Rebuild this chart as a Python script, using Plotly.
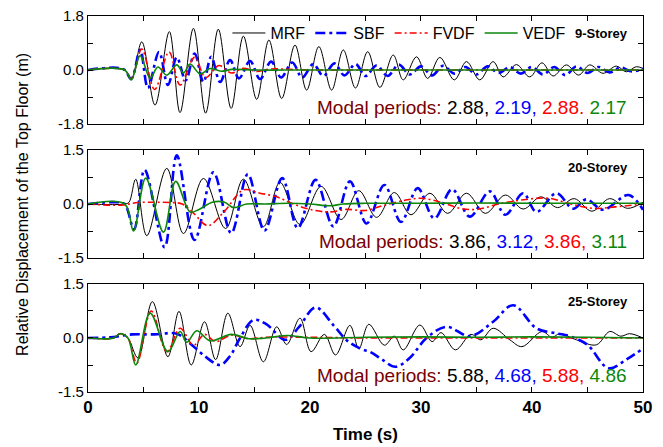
import plotly.graph_objects as go
from plotly.subplots import make_subplots

# ---------------- 9-Storey: roof displacement time histories (s, m) ----------------
t9_mrf = [0, 3.3, 3.9, 4.85, 6.04, 7.33, 8.29, 9.5, 10.6, 11.74, 12.9, 14.0, 15.2, 16.3,
          17.45, 18.65, 19.7, 20.8, 21.95, 23.0, 24.1, 25.2, 26.3, 27.5, 28.4, 29.6, 30.6,
          31.7, 33.0, 34.1, 35.3, 36.5, 37.4, 38.6, 39.8, 40.9, 41.9, 43.1, 44.2, 45.2,
          46.4, 47.6, 48.5, 49.4, 50]
y9_mrf = [0, 0, -0.3, 0.94, -1.17, 1.28, -1.42, 1.39, -1.44, 1.36, -1.28, 1.13, -0.98, 1.0,
          -0.95, 0.83, -0.67, 0.78, -0.67, 0.67, -0.6, 0.61, -0.58, 0.5, -0.33, 0.44, -0.28,
          0.42, -0.33, 0.28, -0.33, 0.28, -0.23, 0.18, -0.23, 0.24, -0.2, 0.17, -0.17, 0.17,
          -0.11, 0.13, -0.06, 0.11, 0.05]

t9_sbf = [0, 3.2, 3.9, 4.7, 5.4, 6.4, 7.2, 8.0, 8.8, 9.6, 10.4, 11.1, 11.9, 12.8, 13.6, 14.6,
          15.5, 16.5, 17.4, 18.4, 19.3, 20.3, 21.2, 22.2, 23.1, 24.1, 25.0, 26.0, 27.0, 28.0,
          29.0, 30.0, 31.0, 32.0, 33.0, 34.0, 35.0, 36.0, 37.0, 38.0, 39.0, 40.0, 41.0, 42.0,
          43.0, 44.0, 45.0, 46.0, 47.0, 48.0, 49.0, 50]
y9_sbf = [0, 0.03, -0.3, 0.67, -0.6, 0.6, -0.5, 0.42, -0.35, 0.55, -0.4, 0.44, -0.4, 0.33,
          -0.28, 0.3, -0.3, 0.28, -0.25, 0.25, -0.25, 0.2, -0.2, 0.22, -0.18, 0.2, -0.2, 0.15,
          -0.2, 0.18, -0.15, 0.12, -0.18, 0.14, -0.12, 0.1, -0.15, 0.12, -0.1, 0.1, -0.12, 0.1,
          -0.15, 0.1, -0.17, 0.12, -0.1, 0.1, -0.08, 0.08, -0.05, 0.05]

t9_fvdf = [0, 3.3, 3.9, 4.85, 6.0, 7.3, 8.3, 9.6, 10.6, 11.8, 12.9, 14.0, 15.2, 16.3, 20, 25,
           30, 35, 40, 45, 50]
y9_fvdf = [0, 0, -0.3, 0.7, -0.65, 0.6, -0.5, 0.42, -0.25, 0.15, -0.1, 0.06, -0.05, 0.03, 0,
           0, 0, 0, 0, 0, 0]

t9_vedf = [0, 3.3, 3.9, 4.7, 5.6, 6.3, 7.1, 8.0, 8.6, 9.2, 10.1, 11.0, 12.0, 13.0, 15, 20, 30,
           40, 50]
y9_vedf = [0, 0, -0.33, 0.48, -0.27, 0.1, -0.17, 0.17, -0.1, 0.2, -0.13, 0.05, -0.04, 0.02, 0,
           0, 0, 0, 0]

# ---------------- 20-Storey ----------------
t20_mrf = [0, 3.3, 3.7, 4.3, 5.3, 7.1, 8.6, 10.4, 12.4, 14.0, 15.8, 17.3, 19.1, 21.0, 22.8,
           24.4, 26.0, 27.6, 29.1, 30.8, 32.4, 34.1, 35.8, 37.6, 39.2, 40.8, 42.3, 43.8, 45.4,
           47.0, 48.6, 50]
y20_mrf = [0, 0, 0.05, 0.69, -0.88, 0.99, -0.82, 0.71, -0.68, 0.69, -0.63, 0.6, -0.57, 0.49,
           -0.43, 0.37, -0.37, 0.32, -0.3, 0.3, -0.26, 0.3, -0.26, 0.25, -0.14, 0.2, -0.1, 0.15,
           -0.2, 0.15, -0.12, 0.05]

t20_sbf = [0, 2.5, 3.3, 4.15, 5.1, 6.9, 8.0, 9.6, 11.3, 12.9, 14.4, 15.9, 17.5, 18.9, 20.5,
           22.1, 23.6, 25.1, 26.7, 28.2, 29.7, 31.2, 32.8, 34.4, 36.2, 37.6, 39.2, 40.4, 42.2,
           43.7, 44.9, 46.4, 48.7, 50]
y20_sbf = [0, 0.05, 0, -0.7, 0.95, -1.2, 1.35, -1.0, 0.88, -0.81, 0.83, -0.74, 0.72, -0.67,
           0.67, -0.62, 0.63, -0.54, 0.53, -0.5, 0.44, -0.4, 0.41, -0.35, 0.35, -0.3, 0.3,
           -0.22, 0.3, -0.13, 0.13, -0.16, 0.25, -0.16]

t20_fvdf = [0, 3.0, 4.5, 6.0, 7.5, 8.5, 9.5, 10.8, 12.3, 14.0, 15.5, 17.0, 18.5, 20.3, 21.8,
            23.3, 25.0, 26.5, 28.5, 30.0, 31.8, 33.5, 35.0, 37.0, 39.0, 41.5, 43.5, 45.5,
            47.5, 50]
y20_fvdf = [0, -0.03, 0.04, 0.05, 0.04, 0, -0.25, -0.6, -0.2, 0.39, 0.3, 0.2, 0.0, -0.17,
            -0.22, -0.15, -0.18, -0.05, 0.1, 0.16, 0.05, -0.12, -0.15, 0.0, 0.11, 0.16, 0.0,
            -0.12, -0.08, 0.0]

t20_vedf = [0, 3.3, 4.1, 5.2, 6.8, 7.9, 9.2, 10.0, 11.2, 12.3, 13.1, 14.3, 16, 18, 20, 21.8,
            23, 25, 30, 35, 40, 45, 50]
y20_vedf = [0, 0, -0.75, 0.72, -0.78, 0.63, -0.22, -0.15, 0.05, 0.05, -0.1, 0.0, 0.0, 0.02,
            0.0, -0.05, 0.0, 0.02, 0.02, 0.03, 0.02, 0.02, 0.02]

# ---------------- 25-Storey ----------------
t25_mrf = [0, 2.3, 2.9, 3.6, 4.5, 5.8, 7.2, 8.2, 9.3, 10.5, 11.5, 12.6, 13.7, 14.6, 15.8,
           17.0, 17.9, 19.1, 20.1, 21.3, 22.3, 23.6, 24.4, 25.3, 26.7, 27.6, 28.4, 29.9,
           31.0, 31.8, 33.1, 34.5, 35.4, 36.5, 38.0, 39.1, 40.9, 41.8, 42.5, 44.0, 45.8,
           47.0, 48.0, 48.8, 50]
y25_mrf = [0, 0, 0.13, 0.0, -0.55, 1.01, -0.52, 0.74, -0.75, 0.45, -0.6, 0.69, -0.24, 0.35,
           -0.66, 0.31, -0.18, 0.55, -0.38, 0.1, -0.47, 0.35, -0.3, 0.38, -0.2, 0.05, -0.33,
           0.36, -0.1, 0.15, -0.33, 0.1, -0.05, 0.27, -0.05, -0.24, 0.18, 0.02, 0.12, -0.05,
           -0.19, 0.18, 0.05, 0.12, 0.0]

t25_sbf = [0, 2, 4, 6, 8, 9.2, 10.5, 11.9, 12.8, 13.7, 14.9, 16.0, 17.8, 19.0, 20.5, 22.1,
           23.3, 24.5, 25.5, 26.5, 27.7, 29.0, 30.5, 32.3, 34.4, 36.5, 38.3, 40.4, 42.2, 43.4,
           45.0, 46.9, 48.5, 50]
y25_sbf = [0, 0.02, 0.1, 0.1, 0.12, -0.15, -0.5, -0.75, -0.5, 0.0, 0.5, 0.4, -0.05, 0.3,
           0.85, 0.36, -0.06, -0.29, -0.4, -0.6, -0.8, -0.55, 0.0, 0.31, 0.05, 0.45, 0.91,
           0.27, 0.13, 0.05, -0.19, -0.84, -0.6, -0.29]

t25_fvdf = [0, 2.3, 2.9, 3.6, 4.4, 5.7, 7.1, 8.3, 9.5, 10.5, 11.5, 12.9, 14.5, 16, 20, 25, 30,
            35, 40, 45, 50]
y25_fvdf = [0, 0, 0.12, 0, -0.7, 0.75, -0.38, 0.27, -0.2, 0.1, -0.1, 0.08, -0.02, 0.02, 0.02,
            0, 0, 0, 0, 0, 0]

t25_vedf = [0, 2.3, 2.9, 3.6, 4.3, 5.6, 7.2, 8.3, 8.9, 9.8, 11.0, 12.9, 14.5, 16, 18, 20, 25,
            30, 35, 40, 45, 50]
y25_vedf = [0, 0, 0.12, 0, -0.75, 0.69, -0.38, 0.18, -0.12, 0.2, -0.08, 0.1, -0.02, 0.0,
            0.07, 0.0, 0.02, 0.03, 0.02, 0.03, 0.02, 0.0]

# ---------------- labels ----------------
systems = ["MRF", "SBF", "FVDF", "VEDF"]
panel_titles = ["9-Storey", "20-Storey", "25-Storey"]
modal_periods = [["2.88,", "2.19,", "2.88.", "2.17"],
                 ["3.86,", "3.12,", "3.86,", "3.11"],
                 ["5.88,", "4.68,", "5.88,", "4.86"]]
y_limits = [1.8, 1.5, 1.5]
x_ticks = [0, 5, 10, 15, 20, 25, 30, 35, 40, 45, 50]
x_ticktext = ["0", "", "10", "", "20", "", "30", "", "40", "", "50"]

panels = [
    [(t9_mrf, y9_mrf), (t9_sbf, y9_sbf), (t9_fvdf, y9_fvdf), (t9_vedf, y9_vedf)],
    [(t20_mrf, y20_mrf), (t20_sbf, y20_sbf), (t20_fvdf, y20_fvdf), (t20_vedf, y20_vedf)],
    [(t25_mrf, y25_mrf), (t25_sbf, y25_sbf), (t25_fvdf, y25_fvdf), (t25_vedf, y25_vedf)],
]

# ---------------- styling ----------------
FONT = "Liberation Sans, Arial, sans-serif"
line_styles = [
    dict(color="#000000", width=1.0, dash="solid"),
    dict(color="#0000ff", width=2.6, dash="10px,4px,3px,4px"),
    dict(color="#ff0000", width=1.6, dash="7px,3px,2px,3px"),
    dict(color="#0c870c", width=1.6, dash="solid"),
]
num_colors = ["#000000", "#0000ff", "#ff0000", "#0c870c"]

x_dom = [0.1327, 0.9698]
y_doms = [[0.7226, 0.9642], [0.4228, 0.6644], [0.1230, 0.3647]]

fig = make_subplots(rows=3, cols=1)

for p, series in enumerate(panels):
    for s, (tt, yy) in enumerate(series):
        fig.add_trace(
            go.Scatter(
                x=tt, y=yy, mode="lines", name=systems[s],
                line=dict(shape="spline", smoothing=1.0, **line_styles[s]),
                showlegend=(p == 0), hoverinfo="skip",
            ),
            row=p + 1, col=1,
        )

for p in range(3):
    lim = y_limits[p]
    xa = "xaxis" if p == 0 else f"xaxis{p + 1}"
    ya = "yaxis" if p == 0 else f"yaxis{p + 1}"
    fig.layout[xa].update(
        domain=x_dom, range=[0, 50], tickvals=x_ticks, ticktext=x_ticktext,
        showticklabels=(p == 2), ticks="inside", ticklen=5, tickwidth=1,
        tickcolor="black", showline=True, linecolor="black", linewidth=1,
        mirror="allticks", showgrid=False, zeroline=False, automargin=False,
        tickfont=dict(family=FONT, size=17, color="black", weight="bold"),
    )
    fig.layout[ya].update(
        domain=y_doms[p], range=[-lim, lim],
        tickvals=[-lim, -lim / 2, 0, lim / 2, lim],
        ticktext=[f"-{lim:.1f}", "", "0.0", "", f"{lim:.1f}"],
        ticks="inside", ticklen=5, tickwidth=1, tickcolor="black",
        showline=True, linecolor="black", linewidth=1, mirror="allticks",
        showgrid=False, zeroline=False, automargin=False,
        tickfont=dict(family=FONT, size=15, color="black"),
    )
    ref = "" if p == 0 else str(p + 1)
    # storey label
    fig.add_annotation(
        xref=f"x{ref} domain", yref=f"y{ref} domain",
        x=0.977, y=0.84, xanchor="right", yanchor="middle",
        text=f"<b>{panel_titles[p]}</b>", showarrow=False,
        font=dict(family=FONT, size=13, color="black"),
    )
    # modal periods line
    parts = ['<span style="color:#7a0000">Modal periods:</span>']
    for s in range(4):
        parts.append(f'<span style="color:{num_colors[s]}">{modal_periods[p][s]}</span>')
    fig.add_annotation(
        xref=f"x{ref} domain", yref=f"y{ref} domain",
        x=0.974, y=0.15, xanchor="right", yanchor="middle",
        text=" ".join(parts), showarrow=False,
        font=dict(family=FONT, size=19, color="black"),
    )

fig.add_annotation(
    xref="paper", yref="paper", x=0.033, y=0.5436, textangle=-90,
    text="Relative Displacement of the Top Floor (m)", showarrow=False,
    xanchor="center", yanchor="middle",
    font=dict(family=FONT, size=16, color="black"),
)
fig.add_annotation(
    xref="paper", yref="paper", x=0.551, y=0.027,
    text="<b>Time (s)</b>", showarrow=False, xanchor="center", yanchor="middle",
    font=dict(family=FONT, size=17, color="black"),
)

fig.update_layout(
    width=663, height=447,
    margin=dict(l=0, r=0, t=0, b=0, autoexpand=False),
    paper_bgcolor="white", plot_bgcolor="white",
    legend=dict(
        orientation="h", x=0.343, y=0.926, xanchor="left", yanchor="middle",
        bgcolor="rgba(0,0,0,0)", font=dict(family=FONT, size=16, color="black"),
        itemwidth=33, tracegroupgap=0,
    ),
)

fig.write_html("out.html")
